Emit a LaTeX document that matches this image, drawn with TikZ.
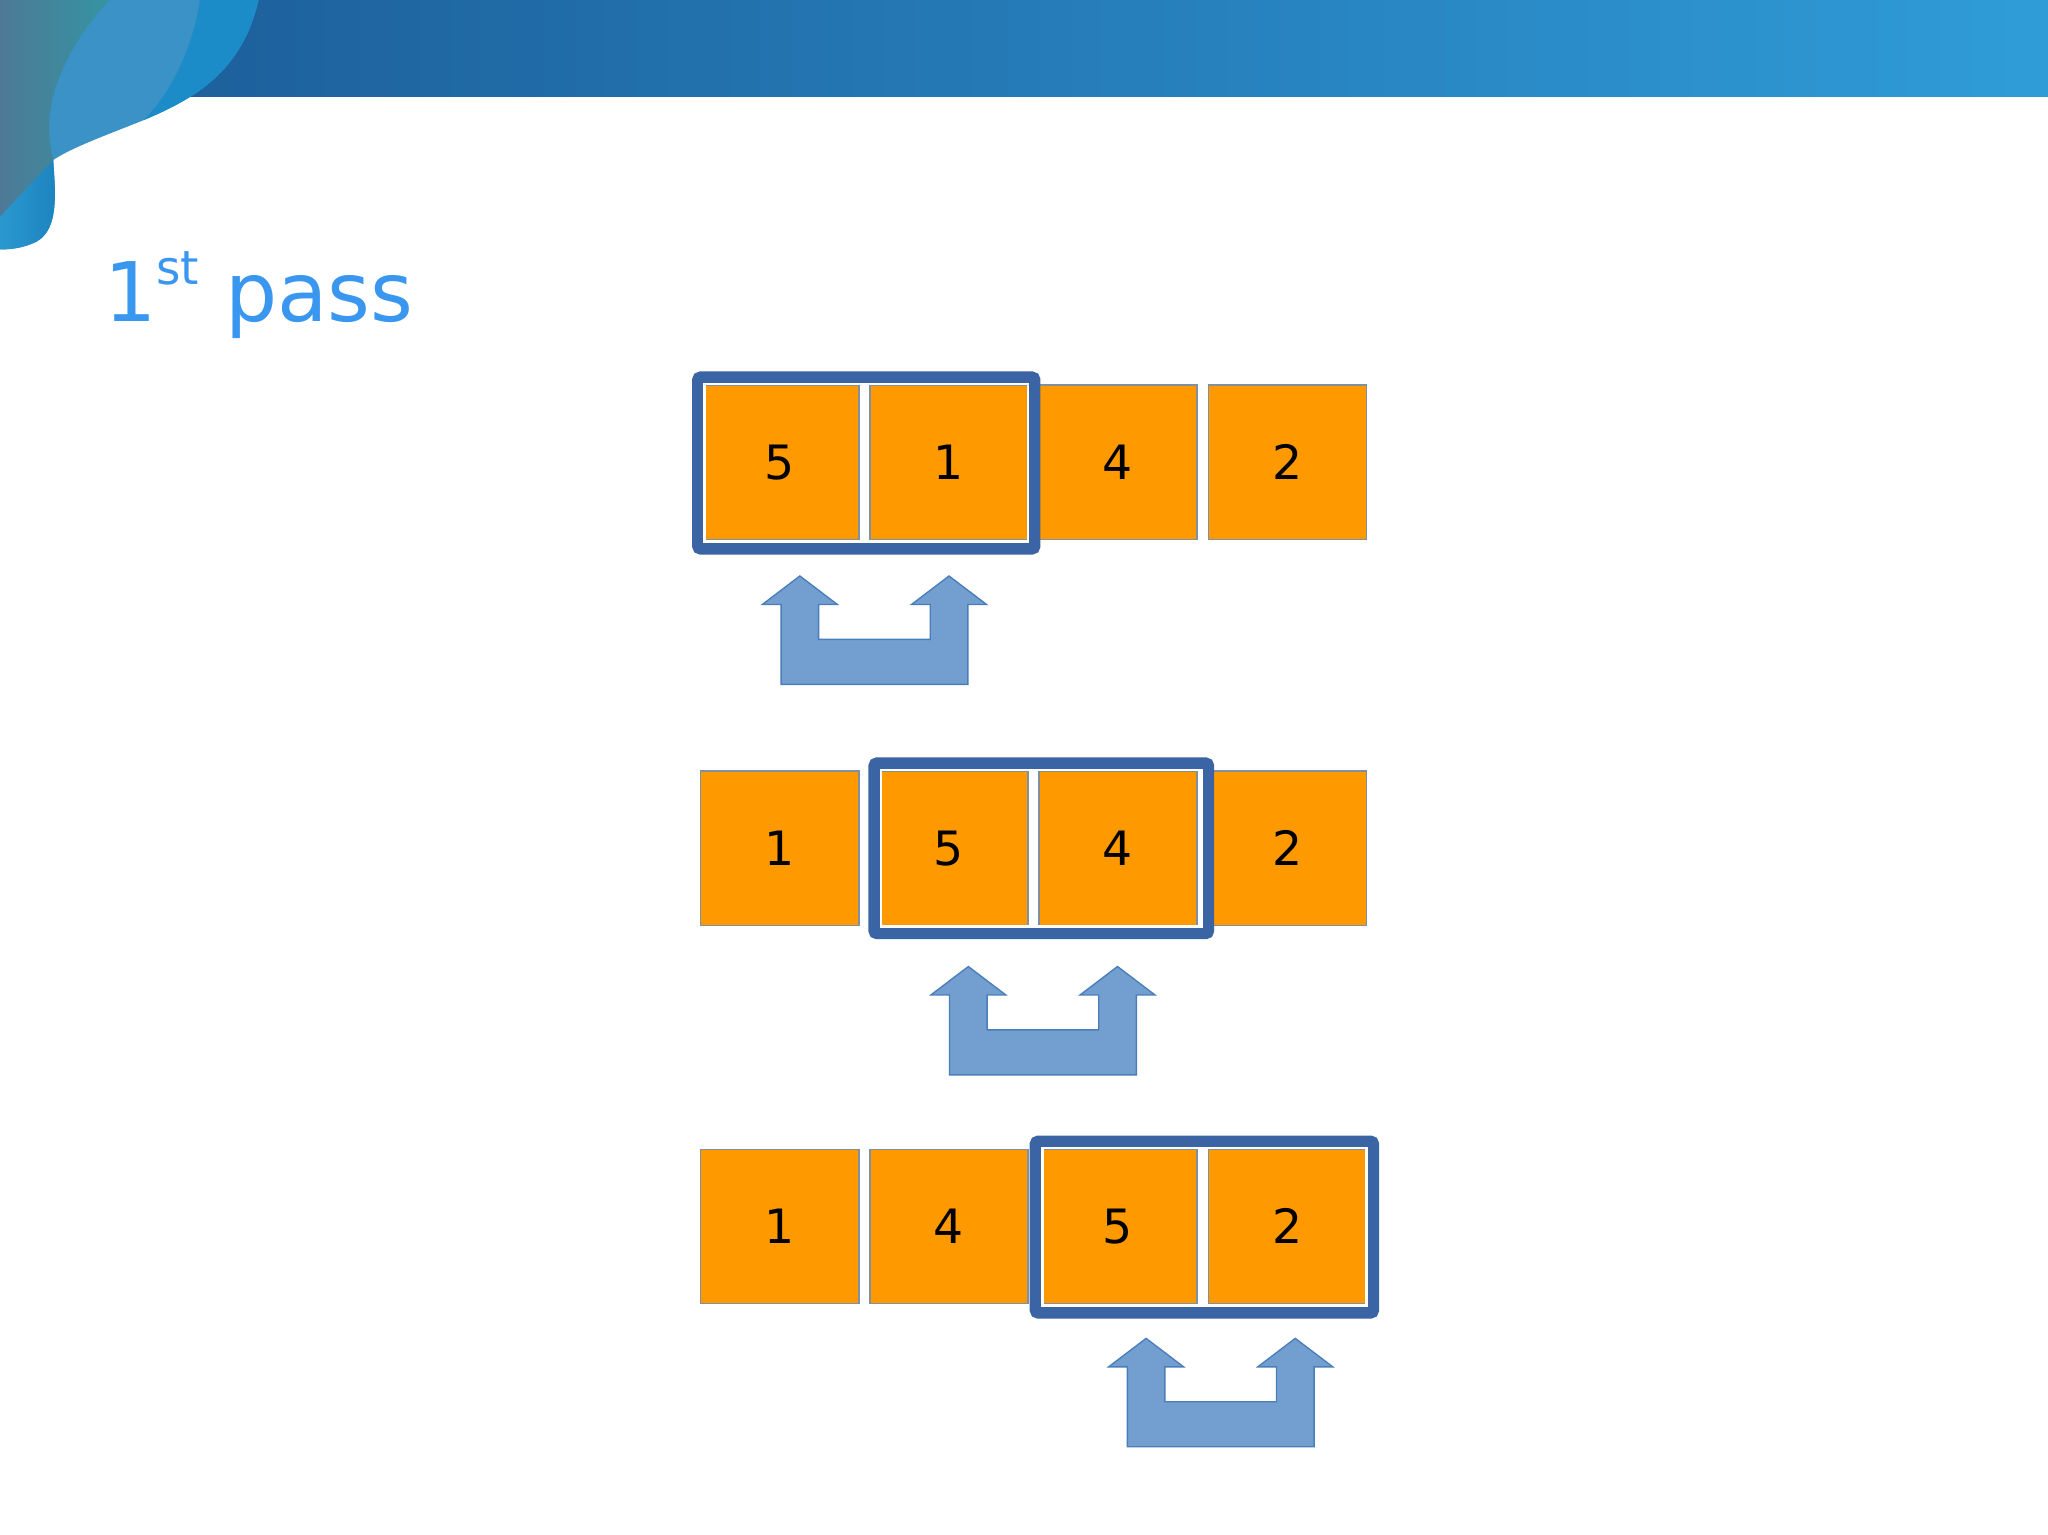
\documentclass[tikz,border=0pt]{standalone}
\usepackage{fontspec}
\setmainfont{DejaVu Sans}
\usetikzlibrary{calc}
\definecolor{bandL}{HTML}{1B5A96}
\definecolor{bandR}{HTML}{2F9CD8}
\definecolor{swA}{HTML}{3A92C6}
\definecolor{swB}{HTML}{1B8CC8}
\definecolor{slateL}{HTML}{4E7996}
\definecolor{slateR}{HTML}{3494A2}
\definecolor{lobeL}{HTML}{2A98CF}
\definecolor{lobeR}{HTML}{1C82BF}
\definecolor{titleblue}{HTML}{3A97F0}
\definecolor{boxorange}{HTML}{FF9900}
\definecolor{boxedge}{HTML}{8090A0}
\definecolor{frameblue}{HTML}{3A64A4}
\definecolor{arrowfill}{HTML}{729FCF}
\definecolor{arrowedge}{HTML}{4A7EBB}
\tikzset{
  cell/.style={rectangle, fill=boxorange, draw=boxedge, line width=0.35pt,
    minimum width=1.21cm, minimum height=1.18cm, inner sep=0pt, outer sep=0pt,
    font=\fontsize{10.3}{11}\selectfont, text=black},
  pairframe/.style={draw=frameblue, line width=2.6pt, rounded corners=0.6pt},
  pairgap/.style={draw=white, line width=0.55pt},
  swaparrow/.pic={
    \path[fill=arrowfill, draw=arrowedge, line width=0.3pt]
      (-71.5,0) -- (-71.5,61.2) -- (-85.8,61.2) -- (-57.1,83) -- (-28.4,61.2)
      -- (-42.7,61.2) -- (-42.7,34.5) -- (42.7,34.5) -- (42.7,61.2)
      -- (28.4,61.2) -- (57.1,83) -- (85.8,61.2) -- (71.5,61.2) -- (71.5,0) -- cycle;
  }
}
\begin{document}
\begin{tikzpicture}[x=0.01cm, y=0.01cm]
\useasboundingbox (0,0) rectangle (1568,1175);
\fill[white] (0,0) rectangle (1568,1175);
% header band
\path[left color=bandL, right color=bandR] (0,1101) rectangle (1568,1175);
% corner decoration
\path[fill=swA] (198,1175) .. controls (185,1120) and (150,1100) .. (110,1083)
  .. controls (80,1071) and (55,1062) .. (40.8,1052.5)
  .. controls (42,1030) and (46,1000) .. (28,990)
  .. controls (18,985) and (8,984) .. (0,984) -- (0,1175) -- cycle;
\path[fill=swB] (153,1175) .. controls (148,1140) and (132,1105) .. (110,1083)
  .. controls (150,1100) and (185,1120) .. (198,1175) -- cycle;
\path[left color=slateL, right color=slateR] (0,1175) -- (84,1175)
  .. controls (60,1150) and (40,1115) .. (38,1085)
  .. controls (37,1070) and (39,1058) .. (40.8,1052.5) -- (0,1009) -- cycle;
\path[left color=lobeL, right color=lobeR] (40.8,1052.5)
  .. controls (42,1030) and (46,1000) .. (28,990)
  .. controls (18,985) and (8,984) .. (0,984) -- (0,1009) -- cycle;
% title
\node[anchor=base west, text=titleblue, inner sep=0pt] (title) at (79,929)
  {\fontsize{17.9}{21}\selectfont 1\raisebox{8pt}{\fontsize{10.2}{12}\selectfont st} pass};
% row 1
\node[cell] (r1a) at (597,821) {5};
\node[cell] (r1b) at (726.5,821) {1};
\node[cell] (r1c) at (856,821) {4};
\node[cell] (r1d) at (985.75,821) {2};
% row 2
\node[cell] (r2a) at (597,525.5) {1};
\node[cell] (r2b) at (726.5,525.5) {5};
\node[cell] (r2c) at (856,525.5) {4};
\node[cell] (r2d) at (985.75,525.5) {2};
% row 3
\node[cell] (r3a) at (597,236) {1};
\node[cell] (r3b) at (726.5,236) {4};
\node[cell] (r3c) at (856,236) {5};
\node[cell] (r3d) at (985.75,236) {2};
% frames
\coordinate (f1tl) at ($(r1a.north west)+(-2,6)$);
\coordinate (f1br) at ($(r1b.south east)+(5,-7)$);
\coordinate (f2tl) at ($(r2b.north west)+(3.5,6)$);
\coordinate (f2br) at ($(r2c.south east)+(8.5,-6)$);
\coordinate (f3tl) at ($(r3c.north west)+(-2.5,6)$);
\coordinate (f3br) at ($(r3d.south east)+(5,-7)$);
\foreach \f in {f1,f2,f3}{
  \draw[pairframe] (\f tl) rectangle (\f br);
  \draw[pairgap] ($(\f tl)+(5,-5)$) rectangle ($(\f br)+(-5,5)$);
}
% swap arrows
\pic at (669.5,651) {swaparrow};
\pic at (798.5,352) {swaparrow};
\pic at (934.6,67.3) {swaparrow};
\end{tikzpicture}
\end{document}
